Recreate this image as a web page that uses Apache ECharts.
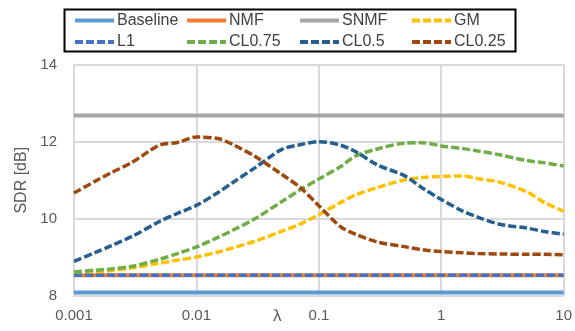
<!DOCTYPE html>
<html>
<head>
<meta charset="utf-8">
<script src="https://cdn.jsdelivr.net/npm/echarts@6/dist/echarts.min.js"></script>
<style>html,body{margin:0;padding:0;background:#fff}#c{width:575px;height:331px}</style>
</head>
<body>
<div id="c"></div>
<script>
const lambda = [0.001,0.0015,0.002,0.003,0.005,0.007,0.01,0.015,0.02,0.03,0.05,0.07,0.1,0.15,0.2,0.3,0.5,0.7,1,1.5,2,3,5,7,10];
const xTickLabels = ['0.001','0.01','0.1','1','10'];
const yTickLabels = ['8','10','12','14'];
const seriesNames = ['Baseline','NMF','SNMF','GM','L1','CL0.75','CL0.5','CL0.25'];
const baseline = [8.09,8.09,8.09,8.09,8.09,8.09,8.09,8.09,8.09,8.09,8.09,8.09,8.09,8.09,8.09,8.09,8.09,8.09,8.09,8.09,8.09,8.09,8.09,8.09,8.09];
const nmf = [8.54,8.54,8.54,8.54,8.54,8.54,8.54,8.54,8.54,8.54,8.54,8.54,8.54,8.54,8.54,8.54,8.54,8.54,8.54,8.54,8.54,8.54,8.54,8.54,8.54];
const snmf = [12.68,12.68,12.68,12.68,12.68,12.68,12.68,12.68,12.68,12.68,12.68,12.68,12.68,12.68,12.68,12.68,12.68,12.68,12.68,12.68,12.68,12.68,12.68,12.68,12.68];
const gm = [8.58,8.62,8.66,8.73,8.85,8.93,9.01,9.14,9.25,9.42,9.68,9.86,10.11,10.42,10.62,10.81,11.01,11.07,11.10,11.11,11.04,10.95,10.70,10.42,10.20];
const l1 = [8.54,8.54,8.54,8.54,8.54,8.54,8.54,8.54,8.54,8.54,8.54,8.54,8.54,8.54,8.54,8.54,8.54,8.54,8.54,8.54,8.54,8.54,8.54,8.54,8.54];
const cl075 = [8.62,8.67,8.70,8.77,8.95,9.10,9.27,9.52,9.71,10.00,10.45,10.75,11.03,11.35,11.63,11.81,11.96,11.97,11.89,11.82,11.76,11.66,11.51,11.45,11.37];
const cl05 = [8.90,9.13,9.30,9.55,9.93,10.14,10.35,10.68,10.95,11.32,11.80,11.92,12.00,11.91,11.74,11.40,11.12,10.80,10.50,10.20,10.04,9.86,9.76,9.67,9.60];
const cl025 = [10.67,10.98,11.19,11.47,11.91,11.98,12.12,12.08,11.92,11.62,11.15,10.82,10.34,9.80,9.60,9.40,9.28,9.20,9.15,9.12,9.10,9.09,9.08,9.08,9.07];

const colors = ['#5B9BD5','#ED7D31','#A5A5A5','#FFC000','#4472C4','#70AD47','#255E91','#9E480E'];
const values = [baseline,nmf,snmf,gm,l1,cl075,cl05,cl025];
const dashed = [false,false,false,true,true,true,true,true];

const chart = echarts.init(document.getElementById('c'), null, {renderer:'canvas'});
const series = seriesNames.map((n,i)=>({
  name:n, type:'line', symbol:'none', showSymbol:false,
  smooth: dashed[i] ? 0.3 : false,
  data: lambda.map((x,j)=>[x, values[i][j]]),
  lineStyle:{color:colors[i], width: dashed[i]?3.5:4, type: dashed[i]?[8,3]:'solid'},
  itemStyle:{color:colors[i]},
  emphasis:{disabled:true},
  z: 2+i
}));
const legOrder = [0,4,1,5,2,6,3,7];
const legends = legOrder.map((si,k)=>({
  data:[seriesNames[si]],
  left: [73,185,298,410][Math.floor(k/2)],
  top: k%2===0 ? 12.5 : 34,
  padding:0, itemWidth:39, itemHeight:16, itemGap:0,
  itemStyle:{opacity:0},
  lineStyle:{width:4},
  textStyle:{fontFamily:'Liberation Sans', fontSize:16, color:'#404040', padding:[0,0,0,-2]},
  selectedMode:false
}));
chart.setOption({
  animation:false,
  backgroundColor:'#fff',
  grid:{left:74, right:9, top:64.5, bottom:35, containLabel:false},
  legend: legends,
  xAxis:{type:'log', logBase:10, min:0.001, max:10,
    axisLine:{show:true, lineStyle:{color:'#D9D9D9', width:2}},
    axisTick:{show:false},
    splitLine:{show:true, lineStyle:{color:'#D9D9D9', width:2}},
    axisLabel:{fontFamily:'Liberation Sans', fontSize:15, color:'#595959', margin:12,
      formatter:(v)=>{const k=Math.round(Math.log10(v))+3; return xTickLabels[k]!==undefined?xTickLabels[k]:'';}}
  },
  yAxis:{type:'value', min:8, max:14, interval:2,
    axisLine:{show:true, lineStyle:{color:'#D9D9D9', width:2}},
    axisTick:{show:false},
    splitLine:{show:true, lineStyle:{color:'#D9D9D9', width:2}},
    axisLabel:{fontFamily:'Liberation Sans', fontSize:15, color:'#595959', margin:17,
      formatter:(v)=>{const k=Math.round((v-8)/2); return yTickLabels[k]!==undefined?yTickLabels[k]:'';}},
    name:'SDR [dB]', nameLocation:'middle', nameGap:43, nameRotate:90,
    nameTextStyle:{fontFamily:'Liberation Sans', fontSize:16, color:'#595959'}
  },
  graphic:[
    {type:'rect', shape:{x:64.5, y:9.5, width:451, height:42}, style:{fill:'none', stroke:'#000', lineWidth:2}, z:0},
    {type:'text', left:273, top:308, style:{text:'λ', fontFamily:'Liberation Sans', fontSize:17, fill:'#595959'}}
  ],
  series: series
});
</script>
</body>
</html>
